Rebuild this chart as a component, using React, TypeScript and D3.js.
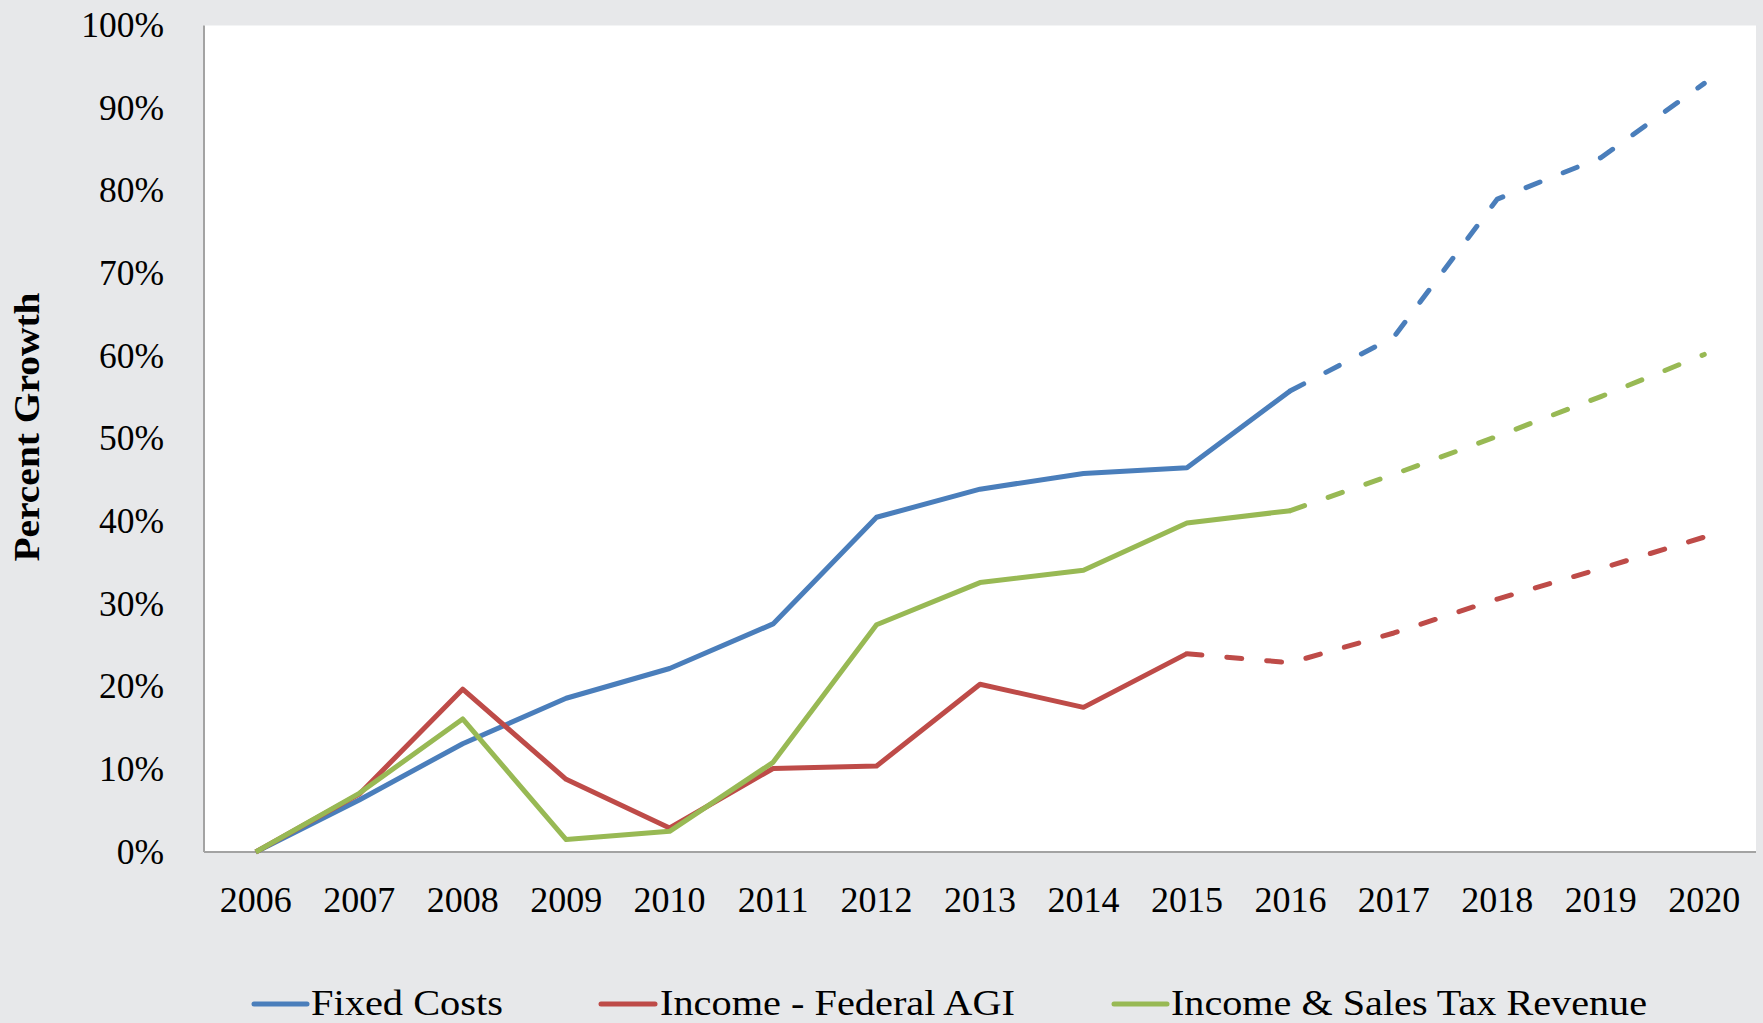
import React from 'react';
import * as d3 from 'd3';

const years = ['2006','2007','2008','2009','2010','2011','2012','2013','2014','2015','2016','2017','2018','2019','2020'];
const fixedCosts = [0, 6.3, 13.1, 18.6, 22.2, 27.6, 40.5, 43.9, 45.8, 46.5, 55.8, 62.3, 79.0, 84.0, 93.0];
const incomeAGI = [0, 7.0, 19.7, 8.8, 2.9, 10.1, 10.4, 20.3, 17.5, 24.0, 22.9, 26.5, 30.6, 34.3, 38.1];
const taxRevenue = [0, 7.1, 16.1, 1.5, 2.5, 10.85, 27.5, 32.6, 34.1, 39.8, 41.3, 45.7, 50.3, 55.1, 60.2];
const yTicks = [0, 10, 20, 30, 40, 50, 60, 70, 80, 90, 100];

const seriesNames = ['Fixed Costs', 'Income - Federal AGI', 'Income & Sales Tax Revenue'];
const seriesColors = ['#4A7EBB', '#BE4B48', '#98B954'];
const seriesValues = [fixedCosts, incomeAGI, taxRevenue];
const projectionFrom = ['2016', '2015', '2016'];

const W = 1763;
const H = 1023;
const FONT = '"Liberation Serif", "Times New Roman", serif';

export default function App() {
  const left = 204, right = 1756, top = 25.5, bottom = 852;
  const x = d3.scaleBand<string>().domain(years).range([left, right]);
  const cx = (yr: string) => (x(yr) as number) + x.bandwidth() / 2;
  const y = d3.scaleLinear().domain([0, 100]).range([bottom, top]);
  const line = d3.line<[string, number]>().x(d => cx(d[0])).y(d => y(d[1]));

  const legendItems = [
    { x1: 254, x2: 307, tx: 311, len: 192 },
    { x1: 601, x2: 655, tx: 660, len: 355 },
    { x1: 1114, x2: 1167, tx: 1171, len: 476 },
  ];

  return (
    <svg width={W} height={H} style={{ position: 'absolute', left: 0, top: 0 }} fontFamily={FONT}>
      <rect x={0} y={0} width={W} height={H} fill="#e7e8ea" />
      <rect x={left} y={top} width={right - left} height={bottom - top} fill="#ffffff" />
      <line x1={left} x2={left} y1={top} y2={bottom} stroke="#a3a3a3" strokeWidth={2} />
      <line x1={left} x2={right} y1={bottom} y2={bottom} stroke="#a3a3a3" strokeWidth={2} />

      {yTicks.map(t => (
        <text key={t} x={164} y={y(t) + 11.5} textAnchor="end" fontSize={35.5} fill="#000">{t}%</text>
      ))}
      {years.map(yr => (
        <text key={yr} x={cx(yr)} y={912} textAnchor="middle" fontSize={36} fill="#000">{yr}</text>
      ))}
      <text transform={`translate(39,427) rotate(-90)`} textAnchor="middle" fontSize={35} fontWeight="bold"
        textLength={269} lengthAdjust="spacingAndGlyphs" fill="#000">Percent Growth</text>

      {seriesValues.map((vals, i) => {
        const pts: [string, number][] = years.map((yr, k) => [yr, vals[k]]);
        const split = years.indexOf(projectionFrom[i]);
        const solid = pts.slice(0, split + 1);
        const dashed = pts.slice(split);
        return (
          <g key={i}>
            <path d={line(solid) || ''} fill="none" stroke={seriesColors[i]} strokeWidth={5} strokeLinejoin="round" />
            <path d={line(dashed) || ''} fill="none" stroke={seriesColors[i]} strokeWidth={5}
              strokeDasharray="15 25" strokeLinecap="round" strokeLinejoin="round" />
          </g>
        );
      })}

      {seriesNames.map((name, i) => (
        <g key={name}>
          <line x1={legendItems[i].x1} x2={legendItems[i].x2} y1={1004} y2={1004} stroke={seriesColors[i]} strokeWidth={5} strokeLinecap="round" />
          <text x={legendItems[i].tx} y={1015} fontSize={35} fill="#000" textLength={legendItems[i].len} lengthAdjust="spacingAndGlyphs">{name}</text>
        </g>
      ))}
    </svg>
  );
}
